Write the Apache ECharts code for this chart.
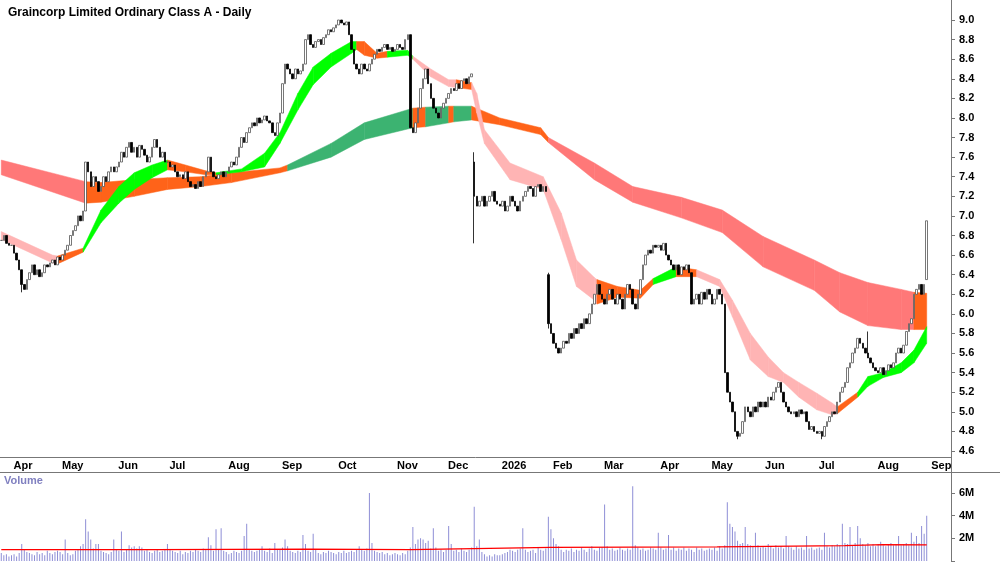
<!DOCTYPE html>
<html>
<head>
<meta charset="UTF-8">
<title>Graincorp Limited Ordinary Class A - Daily</title>
<script src="https://cdn.jsdelivr.net/npm/echarts@6/dist/echarts.min.js"></script>
<style>
  html, body, #main { margin: 0; padding: 0; width: 1000px; height: 562px; background: #fff; }
</style>
</head>
<body>
<div id="main"></div>
<script>
// daily closes, one line per month (Mar 2025 .. Aug 2026)
const closes = [
  6.75, 6.8, 6.72, 6.7,
  6.7, 6.62, 6.55, 6.45, 6.3, 6.25, 6.35, 6.42, 6.5, 6.4, 6.45, 6.38, 6.42, 6.5, 6.48, 6.52, 6.55, 6.5, 6.58,
  6.55, 6.6, 6.65, 6.7, 6.8, 6.85, 6.9, 7.0, 6.95, 7.05, 7.55, 7.45, 7.3, 7.4, 7.35, 7.25, 7.3, 7.4, 7.35, 7.45, 7.5, 7.45,
  7.5, 7.55, 7.65, 7.6, 7.7, 7.75, 7.65, 7.7, 7.6, 7.72, 7.68, 7.62, 7.55, 7.6, 7.7, 7.78, 7.7, 7.6, 7.65, 7.55,
  7.55, 7.5, 7.52, 7.45, 7.4, 7.42, 7.38, 7.45, 7.35, 7.3, 7.32, 7.28, 7.35, 7.3, 7.4, 7.45, 7.6, 7.45, 7.4, 7.38, 7.42, 7.45, 7.4,
  7.45, 7.5, 7.55, 7.52, 7.6, 7.7, 7.8, 7.75, 7.85, 7.9, 7.95, 7.92, 8.0, 7.95, 7.98, 8.02, 7.97, 7.95, 7.85, 7.82, 7.95,
  8.05, 8.35, 8.55, 8.5, 8.45, 8.4, 8.5, 8.45, 8.48, 8.55, 8.8, 8.85, 8.75, 8.72, 8.78, 8.8, 8.75, 8.82, 8.85, 8.9, 8.88, 8.92,
  8.95, 9.0, 8.97, 8.95, 8.98, 8.85, 8.7, 8.55, 8.5, 8.45, 8.55, 8.5, 8.48, 8.55, 8.6, 8.65, 8.7, 8.68, 8.72, 8.75, 8.7, 8.72, 8.68,
  8.7, 8.75, 8.72, 8.7, 8.8, 8.85, 7.9, 7.85, 7.95, 8.1, 8.3, 8.4, 8.5, 8.35, 8.2, 8.1, 8.05, 8.0, 8.1, 8.15,
  8.2, 8.25, 8.3, 8.28, 8.35, 8.3, 8.38, 8.4, 8.35, 8.42, 8.45, 7.2, 7.1, 7.15, 7.2, 7.1, 7.15, 7.2, 7.25, 7.15, 7.12,
  7.1, 7.15, 7.05, 7.1, 7.2, 7.15, 7.1, 7.05, 7.15, 7.2, 7.25, 7.3, 7.28, 7.2, 7.3, 7.32, 7.25, 7.3, 7.25, 5.9,
  5.8, 5.7, 5.65, 5.6, 5.65, 5.72, 5.7, 5.8, 5.75, 5.85, 5.8, 5.9, 5.85, 5.95, 5.9, 6.0, 6.1, 6.2, 6.3, 6.2,
  6.15, 6.1, 6.2, 6.25, 6.15, 6.1, 6.2, 6.15, 6.05, 6.2, 6.3, 6.25, 6.1, 6.05, 6.2, 6.35, 6.5, 6.6, 6.65, 6.62, 6.7, 6.68,
  6.7, 6.65, 6.72, 6.6, 6.55, 6.5, 6.45, 6.5, 6.4, 6.48, 6.45, 6.5, 6.42, 6.1, 6.15, 6.2, 6.1, 6.22, 6.15, 6.25,
  6.2, 6.1, 6.15, 6.25, 6.2, 6.1, 5.4, 5.2, 5.1, 5.0, 4.8, 4.75, 4.78, 4.9, 5.05, 5.0, 4.95, 5.05, 5.0, 5.1, 5.05,
  5.1, 5.05, 5.15, 5.12, 5.2, 5.25, 5.3, 5.2, 5.1, 5.05, 5.0, 4.98, 5.0, 4.95, 5.02, 4.98, 5.0, 4.9, 4.82, 4.85, 4.8,
  4.78, 4.8, 4.75, 4.85, 4.9, 4.95, 5.0, 4.98, 5.1, 5.2, 5.25, 5.3, 5.45, 5.5, 5.6, 5.65, 5.75, 5.7, 5.65, 5.6, 5.55, 5.5, 5.45,
  5.42, 5.4, 5.45, 5.38, 5.42, 5.48, 5.45, 5.5, 5.6, 5.65, 5.6, 5.68, 5.82, 5.9, 5.95, 6.2, 6.25, 6.3, 6.2, 6.3, 6.95
];
// gap-day opens and wick extremes
const openOverrides = { 185: 7.55, 214: 6.4, 362: 6.35 };
const lowOverrides = { 8: 6.22, 185: 6.72, 214: 5.85, 288: 4.72, 321: 4.72 };
const highOverrides = { 185: 7.65, 214: 6.42, 339: 5.82 };

// volume in millions, one line per month
const volumes = [
  0.7, 0.5, 0.6, 0.4,
  0.5, 0.6, 0.4, 0.7, 1.5, 1.0, 0.8, 0.7, 0.6, 0.5, 0.8, 0.6, 0.7, 0.5, 0.9, 0.7, 0.6, 0.8, 0.9,
  0.8, 0.6, 1.9, 0.7, 0.5, 0.6, 0.9, 1.0, 1.3, 1.5, 3.7, 2.6, 1.9, 1.1, 1.5, 1.5, 0.9, 0.8, 0.7, 0.6, 0.8, 1.9,
  1.0, 0.9, 2.6, 0.8, 1.0, 1.4, 1.2, 1.3, 1.1, 1.3, 1.2, 0.9, 1.0, 0.8, 0.7, 0.9, 1.0, 0.8, 0.9, 1.0,
  1.5, 1.0, 0.9, 0.8, 0.7, 0.9, 0.6, 0.8, 0.7, 0.9, 0.8, 1.0, 0.9, 0.8, 1.1, 1.0, 2.1, 1.4, 0.9, 2.8, 1.0, 2.9, 0.9,
  0.8, 0.6, 0.7, 0.9, 0.8, 0.7, 0.9, 2.2, 3.3, 1.0, 0.9, 0.8, 0.9, 1.0, 1.3, 0.9, 0.8, 1.1, 0.7, 1.6, 1.0,
  1.0, 1.2, 1.9, 1.3, 0.9, 0.8, 0.7, 0.9, 0.8, 2.3, 1.5, 0.9, 0.8, 2.4, 1.0, 0.7, 0.6, 0.8, 0.7, 0.9, 0.8, 0.7,
  0.6, 0.8, 0.7, 0.9, 0.7, 0.8, 0.9, 0.8, 1.0, 1.3, 1.0, 0.9, 1.1, 6.0, 1.6, 0.9, 0.8, 0.7, 0.8, 0.6, 0.7, 0.5, 0.6,
  0.7, 0.6, 0.5, 0.7, 0.6, 0.9, 1.2, 3.0, 1.5, 1.9, 2.0, 1.9, 1.6, 1.8, 1.1, 2.9, 1.2, 0.9, 1.0, 0.8,
  1.0, 3.1, 1.5, 0.9, 1.0, 0.8, 1.1, 0.9, 0.8, 1.0, 1.2, 4.8, 1.3, 1.9, 0.8, 0.6, 0.4, 0.5, 0.4, 0.6, 0.5,
  0.5, 0.6, 0.7, 0.8, 1.0, 0.9, 0.8, 1.0, 1.1, 2.9, 1.0, 0.8, 0.9, 1.0, 0.7, 1.2, 1.0, 0.9, 1.1, 3.9,
  2.8, 2.0, 1.5, 1.3, 1.0, 0.8, 1.0, 0.9, 1.1, 0.8, 1.0, 0.9, 1.2, 1.0, 0.8, 1.1, 1.3, 1.0, 0.9, 1.2,
  1.2, 5.0, 1.3, 1.0, 1.1, 0.9, 1.0, 1.2, 1.0, 0.9, 1.1, 1.0, 6.6, 1.4, 1.2, 1.0, 1.1, 0.9, 1.0, 1.2, 1.1, 1.0,
  2.5, 1.2, 1.0, 1.1, 2.3, 1.0, 1.2, 0.9, 1.1, 1.0, 1.2, 0.9, 1.1, 1.0, 0.8, 1.2, 1.0, 1.1, 0.9, 1.0,
  1.1, 1.0, 1.2, 0.9, 1.3, 1.1, 1.4, 5.2, 3.3, 3.0, 2.6, 1.8, 1.5, 1.6, 3.0, 1.5, 1.4, 1.3, 2.5, 1.4, 1.2,
  1.3, 1.2, 1.5, 1.3, 1.1, 1.4, 1.2, 1.3, 1.1, 2.2, 1.3, 1.2, 1.0, 1.3, 1.1, 1.2, 1.0, 2.2, 1.1, 1.2, 1.0,
  1.1, 1.2, 1.0, 2.5, 1.3, 1.2, 1.4, 1.3, 1.5, 1.4, 3.3, 1.6, 1.5, 3.0, 1.4, 1.6, 3.1, 2.0, 1.5, 1.4, 1.6, 1.3, 1.5,
  1.3, 1.5, 1.7, 1.4, 1.3, 1.5, 1.6, 1.4, 1.5, 2.2, 1.4, 1.5, 1.6, 1.4, 2.5, 1.7, 2.2, 1.6, 3.1, 2.4, 4.0
];
// volume average line [bar index, millions]
const volumeAvg = [[0, 1.0], [60, 1.0], [120, 1.05], [160, 1.0], [185, 1.1], [215, 1.2], [280, 1.25], [330, 1.35], [345, 1.45], [362, 1.42]];

// ribbons: [bar index, lower, upper, colour of the segment that starts here]
const shortBand = [
  [0, 6.76, 6.84, 'P'], [20, 6.52, 6.6, 'P'], [22, 6.51, 6.59, 'O'], [32, 6.63, 6.67, 'G'], [39, 6.93, 7.06, 'G'],
  [46, 7.13, 7.3, 'G'], [52, 7.27, 7.44, 'G'], [59, 7.39, 7.52, 'G'], [65, 7.47, 7.57, 'O'], [72, 7.45, 7.52, 'O'],
  [80, 7.42, 7.46, 'O'], [84, 7.42, 7.44, 'G'], [94, 7.45, 7.48, 'G'], [103, 7.5, 7.64, 'G'], [109, 7.74, 7.85, 'G'],
  [116, 8.08, 8.25, 'G'], [122, 8.34, 8.52, 'G'], [129, 8.52, 8.66, 'G'], [137, 8.66, 8.78, 'G'], [139, 8.7, 8.78, 'O'],
  [142, 8.64, 8.78, 'O'], [147, 8.61, 8.66, 'O'], [151, 8.62, 8.68, 'G'], [159, 8.64, 8.69, 'G'], [161, 8.6, 8.63, 'P'],
  [168, 8.42, 8.5, 'P'], [175, 8.32, 8.39, 'P'], [178, 8.31, 8.39, 'O'], [184, 8.29, 8.36, 'P'], [186, 8.05, 8.25, 'P'],
  [189, 7.74, 7.88, 'P'], [199, 7.37, 7.54, 'P'], [212, 7.27, 7.4, 'P'], [219, 6.76, 7.03, 'P'], [225, 6.28, 6.55, 'P'],
  [232, 6.14, 6.37, 'P'], [233, 6.1, 6.35, 'O'], [241, 6.17, 6.28, 'O'], [250, 6.16, 6.24, 'O'], [255, 6.3, 6.36, 'G'],
  [264, 6.38, 6.48, 'O'], [272, 6.38, 6.45, 'P'], [281, 6.28, 6.35, 'P'], [286, 5.97, 6.14, 'P'], [293, 5.53, 5.8, 'P'],
  [300, 5.36, 5.56, 'P'], [306, 5.3, 5.4, 'P'], [312, 5.15, 5.3, 'P'], [319, 5.02, 5.19, 'P'], [325, 4.97, 5.09, 'P'],
  [327, 4.98, 5.05, 'O'], [335, 5.15, 5.2, 'G'], [339, 5.26, 5.36, 'G'], [345, 5.35, 5.4, 'G'], [352, 5.4, 5.5, 'G'],
  [357, 5.5, 5.63, 'G'], [362, 5.7, 5.87, 'G']
];
const longBand = [
  [0, 7.42, 7.57, 'R'], [33, 7.13, 7.35, 'O'], [39, 7.14, 7.34, 'O'], [52, 7.2, 7.37, 'O'], [65, 7.27, 7.39, 'O'],
  [78, 7.3, 7.4, 'O'], [90, 7.34, 7.44, 'O'], [109, 7.44, 7.49, 'O'], [112, 7.46, 7.52, 'G'], [129, 7.6, 7.74, 'G'],
  [142, 7.78, 7.95, 'G'], [161, 7.9, 8.1, 'O'], [166, 7.91, 8.11, 'G'], [175, 7.95, 8.12, 'O'], [177, 7.96, 8.12, 'G'],
  [184, 7.98, 8.12, 'O'], [195, 7.93, 8.0, 'O'], [211, 7.83, 7.9, 'O'], [214, 7.75, 7.8, 'R'], [232, 7.37, 7.54, 'R'],
  [247, 7.14, 7.3, 'R'], [266, 6.98, 7.19, 'R'], [282, 6.83, 7.06, 'R'], [298, 6.48, 6.79, 'R'], [318, 6.24, 6.55, 'R'],
  [328, 6.02, 6.42, 'R'], [339, 5.88, 6.32, 'R'], [352, 5.84, 6.25, 'R'], [357, 5.84, 6.22, 'O'], [362, 5.84, 6.21, 'O']
];
const shortColors = { G: '#00ff00', O: '#ff6319', P: '#ffb4b4' };
const longColors = { G: '#3cb371', O: '#ff6319', R: '#ff7878' };

const monthNames = ['Jan', 'Feb', 'Mar', 'Apr', 'May', 'Jun', 'Jul', 'Aug', 'Sep', 'Oct', 'Nov', 'Dec'];
const holidays = ['2025-04-18', '2025-04-21', '2025-04-25', '2025-06-09', '2025-12-25', '2025-12-26',
  '2026-01-01', '2026-01-26', '2026-04-03', '2026-04-06', '2026-06-08'];

// trading days, with blank days on the right
const dates = [];
const d = new Date(Date.UTC(2025, 2, 26));
while (dates.length < 372) {
  const s = d.toISOString().slice(0, 10);
  const wd = d.getUTCDay();
  if (wd !== 0 && wd !== 6 && holidays.indexOf(s) < 0) dates.push(s);
  d.setUTCDate(d.getUTCDate() + 1);
}
const isMonthStart = i => i > 0 && dates[i].slice(5, 7) !== dates[i - 1].slice(5, 7);

const candles = closes.map((c, i) => {
  const o = openOverrides[i] !== undefined ? openOverrides[i] : (i > 0 ? closes[i - 1] : c);
  const lo = lowOverrides[i] !== undefined ? lowOverrides[i] : Math.min(o, c);
  const hi = highOverrides[i] !== undefined ? highOverrides[i] : Math.max(o, c);
  return [o, c, lo, hi];
});

function bandData(pts) {
  const out = [];
  for (let i = 0; i < pts.length - 1; i++) {
    const a = pts[i], b = pts[i + 1];
    out.push([a[0], a[1], a[2], b[0], b[1], b[2], a[3]]);
  }
  return out;
}
function bandSeries(pts, colors) {
  return {
    type: 'custom', xAxisIndex: 0, yAxisIndex: 0, z: 1, silent: true,
    data: bandData(pts),
    encode: { x: [0, 3], y: [1, 2, 4, 5] },
    renderItem: (params, api) => {
      const p1 = api.coord([api.value(0), api.value(1)]);
      const p2 = api.coord([api.value(3), api.value(4)]);
      const p3 = api.coord([api.value(3), api.value(5)]);
      const p4 = api.coord([api.value(0), api.value(2)]);
      const col = colors[api.value(6)];
      return {
        type: 'polygon',
        shape: { points: [p1, p2, p3, p4] },
        style: { fill: col, stroke: col, lineWidth: 0.5 }
      };
    }
  };
}

const chart = echarts.init(document.getElementById('main'));
const axisFont = { fontFamily: 'Liberation Sans, Arial, sans-serif', fontWeight: 'bold', fontSize: 11, color: '#000' };

chart.setOption({
  animation: false,
  title: {
    text: 'Graincorp Limited Ordinary Class A - Daily',
    left: 3, top: 2,
    textStyle: { fontFamily: 'Liberation Sans, Arial, sans-serif', fontWeight: 'bold', fontSize: 12, color: '#000' }
  },
  grid: [
    { left: 0, right: 49, top: 20, height: 431 },
    { left: 0, right: 49, top: 475, bottom: 1 }
  ],
  xAxis: [
    {
      type: 'category', gridIndex: 0, data: dates, offset: 6,
      axisLine: { lineStyle: { color: '#777' } },
      axisTick: { inside: true, length: 3, interval: i => isMonthStart(i), lineStyle: { color: '#777' } },
      axisLabel: Object.assign({}, axisFont, {
        interval: i => isMonthStart(i),
        align: 'left', margin: 3, padding: [0, 0, 0, 2],
        formatter: v => {
          const m = +v.slice(5, 7) - 1;
          return m === 0 ? v.slice(0, 4) : monthNames[m];
        }
      })
    },
    {
      type: 'category', gridIndex: 1, data: dates,
      axisLine: { show: false }, axisTick: { show: false }, axisLabel: { show: false }
    }
  ],
  yAxis: [
    {
      type: 'value', gridIndex: 0, position: 'right', min: 4.6, max: 9.0, interval: 0.2,
      axisLine: { show: false },
      axisTick: { show: true, length: 4, lineStyle: { color: '#777' } },
      splitLine: { show: false },
      axisLabel: Object.assign({}, axisFont, { margin: 8, formatter: v => v.toFixed(1) })
    },
    {
      type: 'value', gridIndex: 1, position: 'right', min: 0, max: 7.6, interval: 2,
      axisLine: { show: false },
      axisTick: { show: true, length: 4, lineStyle: { color: '#777' } },
      splitLine: { show: false },
      axisLabel: Object.assign({}, axisFont, { margin: 8, showMaxLabel: false, formatter: v => v ? v + 'M' : '' })
    }
  ],
  series: [
    bandSeries(longBand, longColors),
    bandSeries(shortBand, shortColors),
    {
      type: 'candlestick', xAxisIndex: 0, yAxisIndex: 0, z: 3,
      data: candles, barWidth: 2,
      itemStyle: { color: '#fff', color0: '#000', borderColor: '#555', borderColor0: '#000', borderWidth: 0.8 }
    },
    {
      type: 'bar', xAxisIndex: 1, yAxisIndex: 1, data: volumes, barWidth: 1,
      itemStyle: { color: '#8e8ed6' }
    },
    {
      type: 'line', xAxisIndex: 1, yAxisIndex: 1, data: volumeAvg, symbol: 'none',
      lineStyle: { color: '#ff0000', width: 1.2 }, z: 4
    }
  ],
  graphic: [
    { type: 'line', shape: { x1: 951.5, y1: 0, x2: 951.5, y2: 562 }, style: { stroke: '#777', lineWidth: 1 } },
    { type: 'line', shape: { x1: 0, y1: 472.5, x2: 1000, y2: 472.5 }, style: { stroke: '#777', lineWidth: 1 } },
    {
      type: 'text', left: 4, top: 475,
      style: { text: 'Volume', fill: '#8080c0', font: 'bold 11px Liberation Sans, Arial, sans-serif' }
    }
  ]
});
</script>
</body>
</html>
